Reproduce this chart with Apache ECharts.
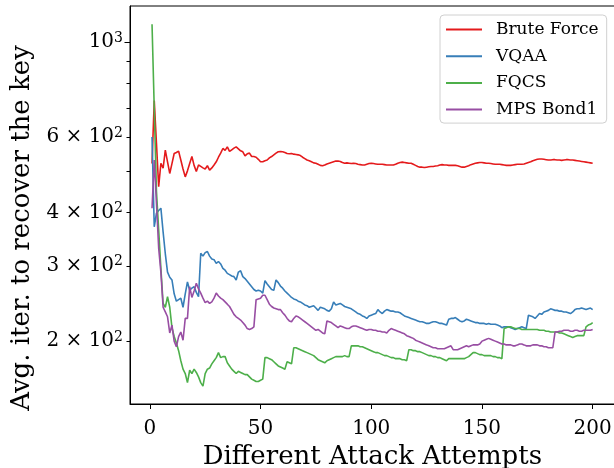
<!DOCTYPE html>
<html>
<head>
<meta charset="utf-8">
<script src="https://cdn.jsdelivr.net/npm/echarts@6/dist/echarts.min.js"></script>
<style>html,body{margin:0;padding:0;background:#fff}#c{width:614px;height:468px}</style>
</head>
<body>
<div id="c"></div>
<script>
const seriesNames = ['Brute Force', 'VQAA', 'FQCS', 'MPS Bond1'];
const xTickValues = [0, 50, 100, 150, 200];
const yLabelValues = [200, 300, 400, 600, 1000];
const yTickValues = [200, 300, 400, 500, 600, 700, 800, 900];
const yMajorTickValues = [1000];

const bruteForce = [520,730,580,459,521,507,559,525,493,520,549,552,556,530,505,484,500,520,540,515,498,516,512,508,505,514,502,508,516,525,538,550,564,558,569,555,560,565,569,563,557,554,542,548,550,540,540,538,532,525,
525,528,530,536,540,545,550,554,555,554,552,549,548,549,547,546,545,543,538,534,530,528,525,522,521,518,515,514,516,519,521,523,525,527,527,526,523,521,522,521,520,521,520,518,517,516,516,518,520,521,
520,519,518,518,518,517,516,516,516,516,518,521,523,524,523,522,521,521,518,515,512,510,510,509,510,511,512,512,513,514,516,517,516,516,515,515,515,515,514,512,510,510,512,514,517,519,521,522,523,523,
522,521,521,520,519,518,518,518,517,516,515,515,515,516,517,518,518,518,519,521,523,525,528,530,532,533,533,532,531,530,530,531,531,530,530,529,530,531,531,530,530,529,528,527,526,525,524,523,522,521];

const vqaa = [600,370,398,404,409,360,320,290,282,278,258,248,250,252,240,258,275,263,266,268,260,254,321,316,322,324,316,311,310,304,307,303,296,293,288,286,284,283,278,290,292,283,280,276,272,268,264,262,263,262,
259,277,272,268,264,263,278,274,269,266,262,259,256,253,251,250,248,247,245,243,242,240,241,242,239,236,240,239,238,236,235,238,247,243,244,245,243,241,240,239,238,236,234,232,231,229,228,226,229,230,
231,232,237,234,232,235,237,236,235,235,234,234,233,231,229,228,227,226,225,224,223,222,222,221,220,220,221,222,222,221,220,220,219,218,225,226,226,227,225,223,222,223,225,224,223,222,221,221,220,220,
220,219,220,219,219,219,218,217,215,216,216,216,215,214,213,214,215,216,215,214,230,229,228,226,229,232,231,234,235,236,238,237,236,236,235,235,234,234,233,232,234,237,238,238,239,238,237,238,239,237];

const fqcs = [1100,700,448,364,296,245,240,254,240,215,205,198,190,180,172,168,160,171,168,172,169,165,160,157,168,172,173,177,180,183,188,183,184,184,178,175,172,170,168,170,169,168,167,167,165,163,162,161,161,162,
163,183,183,182,181,179,177,175,174,173,172,179,178,177,193,193,192,191,190,189,188,187,186,185,183,181,180,179,178,180,181,182,183,184,184,184,184,185,184,184,195,195,195,195,194,194,193,192,191,190,
189,188,188,187,186,185,185,184,183,183,182,182,182,181,181,180,191,191,190,190,189,189,188,187,186,185,185,184,184,183,183,182,181,180,182,182,182,182,182,182,182,182,183,184,186,188,188,187,186,186,
185,185,185,185,184,184,183,183,182,214,215,216,216,215,214,214,214,213,213,213,213,213,213,213,213,212,212,212,211,211,210,210,210,210,209,209,208,207,206,205,204,205,206,206,206,206,216,218,219,221];

const mpsBond1 = [409,530,420,330,290,240,234,228,209,218,200,194,205,210,201,226,226,268,253,262,273,265,259,252,246,248,245,247,252,259,255,252,250,247,244,241,236,231,228,226,224,221,218,214,213,214,216,250,251,252,
256,256,250,244,241,239,238,237,237,233,230,226,223,222,226,229,228,226,224,222,220,218,216,214,212,213,211,209,208,223,222,221,219,217,215,217,216,215,214,214,216,217,217,216,215,214,213,212,213,213,
212,212,211,211,210,210,209,212,214,213,212,211,210,209,208,206,205,204,203,201,200,199,198,197,196,195,194,193,193,192,192,192,192,193,194,195,191,191,191,192,193,194,195,194,195,196,196,196,197,200,
201,202,203,202,201,200,199,198,197,197,196,196,196,195,195,196,197,197,196,195,195,195,196,196,196,195,195,194,194,193,193,193,210,210,211,211,212,212,212,211,211,212,212,211,211,212,212,212,212,213];

const colors = ['#e41a1c', '#377eb8', '#4daf4a', '#984ea3'];
const allValues = [bruteForce, vqaa, fqcs, mpsBond1];
const attempts = bruteForce.map((_, k) => k + 1);

const FONT = 'DejaVu Serif';
const supLabel = {
  1000: '{b|10}{s|3}',
  600: '{b|6 × 10}{s|2}',
  400: '{b|4 × 10}{s|2}',
  300: '{b|3 × 10}{s|2}',
  200: '{b|2 × 10}{s|2}'
};

const chart = echarts.init(document.getElementById('c'), null, {renderer: 'canvas'});
const yCommon = {
  type: 'log', logBase: 10, min: 142.6, max: 1214,
  splitLine: {show: false}, minorTick: {show: false}, minorSplitLine: {show: false}
};
chart.setOption({
  animation: false,
  backgroundColor: '#fff',
  grid: {left: 130, top: 6, width: 484.7, height: 398, containLabel: false, outerBoundsMode: 'none',
    show: true, borderColor: '#000', borderWidth: 1, backgroundColor: 'transparent'},
  legend: {
    data: seriesNames, orient: 'vertical', left: 440, top: 15,
    padding: [6, 8, 5, 6], itemGap: 9.7, itemWidth: 36, itemHeight: 2, icon: 'rect',
    borderColor: '#d0d0d0', borderWidth: 1, borderRadius: 4, backgroundColor: 'rgba(255,255,255,0.8)',
    textStyle: {fontFamily: FONT, fontSize: 17, color: '#000', padding: [0, 0, 0, 9]}
  },
  xAxis: {
    type: 'value', min: -8.95, max: 209.95,
    name: 'Different Attack Attempts', nameLocation: 'middle', nameGap: 35,
    nameTextStyle: {fontFamily: FONT, fontSize: 26, color: '#000'},
    axisLine: {onZero: false, lineStyle: {color: '#000', width: 1}},
    axisTick: {show: true, inside: false, length: 5, customValues: xTickValues, lineStyle: {color: '#000'}},
    axisLabel: {customValues: xTickValues, fontFamily: FONT, fontSize: 20, color: '#000', margin: 15},
    splitLine: {show: false}
  },
  yAxis: [
    Object.assign({}, yCommon, {
      name: 'Avg. iter. to recover the key', nameLocation: 'middle', nameGap: 88,
      nameTextStyle: {fontFamily: FONT, fontSize: 26, color: '#000', padding: [0, 46, 0, 0]},
      axisLine: {onZero: false, lineStyle: {color: '#000', width: 1}},
      axisTick: {show: true, inside: false, length: 3.5, customValues: yTickValues, lineStyle: {color: '#000'}},
      axisLabel: {
        customValues: yLabelValues, margin: 7, color: '#000',
        formatter: v => supLabel[Math.round(v)] || '',
        rich: {
          b: {fontFamily: FONT, fontSize: 20, color: '#000'},
          s: {fontFamily: FONT, fontSize: 14, color: '#000', verticalAlign: 'top', padding: [0, 0, 8, 0]}
        }
      }
    }),
    Object.assign({}, yCommon, {
      position: 'left',
      axisLine: {show: false, onZero: false},
      axisTick: {show: true, inside: false, length: 5.5, customValues: yMajorTickValues, lineStyle: {color: '#000'}},
      axisLabel: {show: false}
    })
  ],
  series: seriesNames.map((name, s) => ({
    name, type: 'line', yAxisIndex: 0, showSymbol: false, symbol: 'none',
    data: attempts.map((a, k) => [a, allValues[s][k]]),
    lineStyle: {color: colors[s], width: 1.6}, itemStyle: {color: colors[s]},
    emphasis: {disabled: true}, z: 2 + s
  }))
});
</script>
</body>
</html>
